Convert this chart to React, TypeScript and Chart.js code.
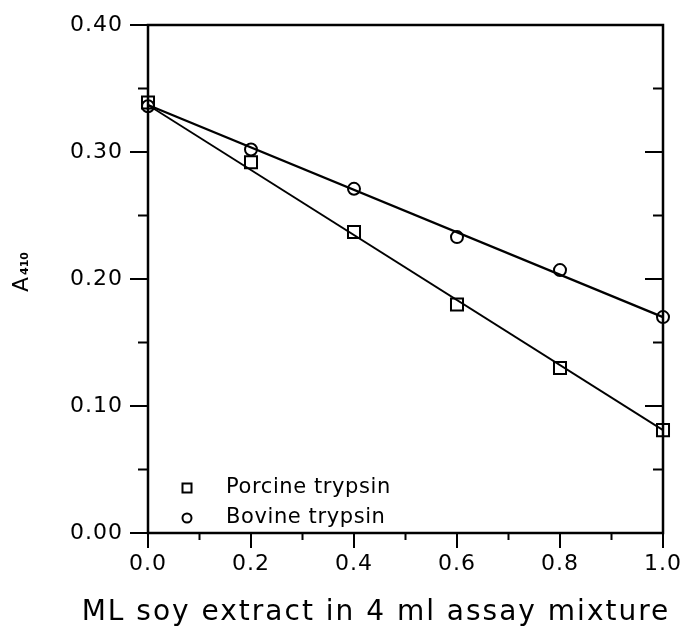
import React, { useEffect, useRef } from "react";
import { Chart, registerables } from "chart.js";

Chart.register(...registerables);

// ---- data ----
const xValues = [0, 0.2, 0.4, 0.6, 0.8, 1.0];
const porcine = [0.339, 0.292, 0.237, 0.18, 0.13, 0.081];
const bovine = [0.336, 0.302, 0.271, 0.233, 0.207, 0.17];
const fitX = [0, 1.0];
const porcineFit = [0.337, 0.081];
const bovineFit = [0.337, 0.17];
const seriesLabels = ["Porcine trypsin", "Bovine trypsin"];
const yMajorTicks = [0, 0.1, 0.2, 0.3, 0.4];
const yMinorTicks = [0.05, 0.15, 0.25, 0.35];
const xMajorTicks = [0, 0.2, 0.4, 0.6, 0.8, 1.0];
const xMinorTicks = [0.1, 0.3, 0.5, 0.7, 0.9];
const xTitle = "ML soy extract in 4 ml assay mixture";
const yTitleMain = "A";
const yTitleSub = "410";

const FONT = "'DejaVu Sans', sans-serif";

const framePlugin = {
  id: "framePlugin",
  beforeDraw(chart: any) {
    const ctx = chart.ctx;
    ctx.save();
    ctx.fillStyle = "#ffffff";
    ctx.fillRect(0, 0, chart.width, chart.height);
    ctx.restore();
    (ctx as any).letterSpacing = "1px";
  },
  afterDraw(chart: any) {
    const ctx = chart.ctx;
    const { left, right, top, bottom } = chart.chartArea;
    const xs = chart.scales.x;
    const ys = chart.scales.y;
    ctx.save();
    ctx.strokeStyle = "#000";
    ctx.lineWidth = 2.5;
    ctx.strokeRect(left, top, right - left, bottom - top);
    ctx.lineWidth = 2;
    ctx.beginPath();
    yMajorTicks.forEach((v) => {
      const y = ys.getPixelForValue(v);
      ctx.moveTo(left - 18, y);
      ctx.lineTo(left, y);
      ctx.moveTo(right - 18, y);
      ctx.lineTo(right, y);
    });
    yMinorTicks.forEach((v) => {
      const y = ys.getPixelForValue(v);
      ctx.moveTo(left - 10, y);
      ctx.lineTo(left, y);
      ctx.moveTo(right - 10, y);
      ctx.lineTo(right, y);
    });
    xMajorTicks.forEach((v) => {
      const x = xs.getPixelForValue(v);
      ctx.moveTo(x, bottom);
      ctx.lineTo(x, bottom + 15);
    });
    xMinorTicks.forEach((v) => {
      const x = xs.getPixelForValue(v);
      ctx.moveTo(x, bottom);
      ctx.lineTo(x, bottom + 7);
    });
    ctx.stroke();

    // legend
    ctx.fillStyle = "#000";
    ctx.lineWidth = 2;
    const lx = left + 39;
    const ly0 = bottom - 45;
    const ly1 = bottom - 15;
    ctx.strokeRect(lx - 4.5, ly0 - 4.5, 9, 9);
    ctx.beginPath();
    ctx.arc(lx, ly1, 4.5, 0, Math.PI * 2);
    ctx.stroke();
    ctx.font = `21px ${FONT}`;
    (ctx as any).letterSpacing = "0.6px";
    ctx.textBaseline = "middle";
    ctx.textAlign = "left";
    ctx.fillText(seriesLabels[0], lx + 39, ly0);
    ctx.fillText(seriesLabels[1], lx + 39, ly1);

    // x title
    ctx.font = `28px ${FONT}`;
    (ctx as any).letterSpacing = "2px";
    ctx.textAlign = "center";
    ctx.textBaseline = "middle";
    ctx.fillText(xTitle, 376, 613);
    (ctx as any).letterSpacing = "0px";

    // y title (rotated, with subscript)
    ctx.translate(28, 292);
    ctx.rotate(-Math.PI / 2);
    ctx.textAlign = "left";
    ctx.textBaseline = "alphabetic";
    ctx.font = `22px ${FONT}`;
    ctx.fillText(yTitleMain, 0, 0);
    const w = ctx.measureText(yTitleMain).width;
    ctx.font = `bold 11px ${FONT}`;
    ctx.fillText(yTitleSub, w + 2, 0);
    ctx.restore();
  },
};

const zeroPad = (s: any) => {
  s.paddingTop = 0;
  s.paddingBottom = 0;
  s.paddingLeft = 0;
  s.paddingRight = 0;
};

export default function App() {
  const ref = useRef<HTMLCanvasElement | null>(null);
  useEffect(() => {
    if (!ref.current) return;
    const chart = new Chart(ref.current, {
      type: "scatter",
      data: {
        datasets: [
          {
            label: seriesLabels[0] + " fit",
            data: fitX.map((x, i) => ({ x, y: porcineFit[i] })),
            showLine: true,
            borderColor: "#000",
            borderWidth: 1.8,
            pointRadius: 0,
            clip: false,
          },
          {
            label: seriesLabels[1] + " fit",
            data: fitX.map((x, i) => ({ x, y: bovineFit[i] })),
            showLine: true,
            borderColor: "#000",
            borderWidth: 2.3,
            pointRadius: 0,
            clip: false,
          },
          {
            label: seriesLabels[0],
            data: xValues.map((x, i) => ({ x, y: porcine[i] })),
            showLine: false,
            pointStyle: "rect",
            pointRadius: 8.5,
            borderColor: "#000",
            backgroundColor: "rgba(0,0,0,0)",
            borderWidth: 2,
            clip: false,
          },
          {
            label: seriesLabels[1],
            data: xValues.map((x, i) => ({ x, y: bovine[i] })),
            showLine: false,
            pointStyle: "circle",
            pointRadius: 6,
            borderColor: "#000",
            backgroundColor: "rgba(0,0,0,0)",
            borderWidth: 2,
            clip: false,
          },
        ],
      },
      options: {
        animation: false,
        responsive: false,
        maintainAspectRatio: false,
        layout: { padding: { top: 25, right: 23, left: 0, bottom: 0 } },
        plugins: {
          legend: { display: false },
          tooltip: { enabled: false },
          title: { display: false },
        },
        scales: {
          x: {
            type: "linear",
            min: 0,
            max: 1,
            border: { display: false },
            grid: { display: false, drawTicks: false },
            afterFit: (s: any) => {
              s.height = 96;
              zeroPad(s);
            },
            afterBuildTicks: (s: any) => {
              s.ticks = xMajorTicks.map((v) => ({ value: v }));
            },
            ticks: {
              color: "#000",
              padding: 18,
              font: { family: FONT, size: 22 },
              maxRotation: 0,
              callback: (v: any) => Number(v).toFixed(1),
            },
          },
          y: {
            type: "linear",
            min: 0,
            max: 0.4,
            border: { display: false },
            grid: { display: false, drawTicks: false },
            afterFit: (s: any) => {
              s.width = 148;
              zeroPad(s);
            },
            afterBuildTicks: (s: any) => {
              s.ticks = yMajorTicks.map((v) => ({ value: v }));
            },
            ticks: {
              color: "#000",
              padding: 25,
              font: { family: FONT, size: 22 },
              callback: (v: any) => Number(v).toFixed(2),
            },
          },
        },
      },
      plugins: [framePlugin],
    } as any);
    return () => chart.destroy();
  }, []);
  return (
    <div style={{ position: "fixed", left: 0, top: 0, width: 686, height: 629 }}>
      <canvas ref={ref} width={686} height={629} style={{ width: 686, height: 629, display: "block" }} />
    </div>
  );
}
